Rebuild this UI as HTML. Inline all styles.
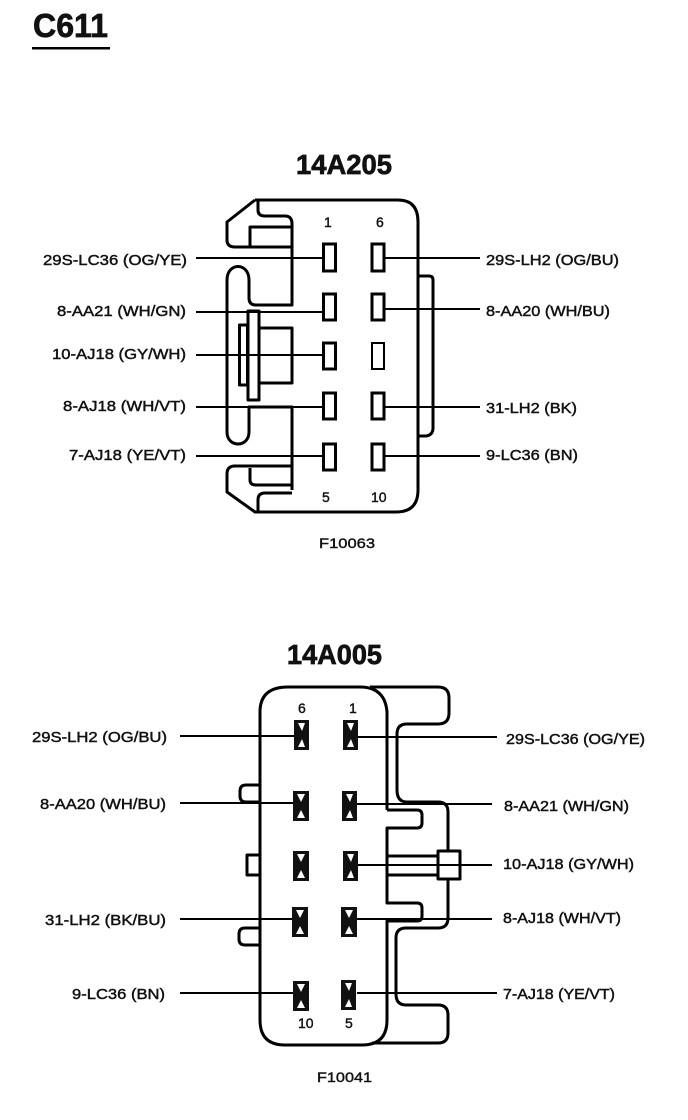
<!DOCTYPE html>
<html><head><meta charset="utf-8"><title>C611</title>
<style>
html,body{margin:0;padding:0;background:#fff}
svg{display:block}
text{font-family:"Liberation Sans",sans-serif;fill:#111;font-size:14.5px;stroke:#111;stroke-width:.45}
.h{font-weight:bold;font-size:27.5px;stroke-width:.7}
.n{font-size:14px;stroke-width:.4}
.o{fill:none;stroke:#000;stroke-width:3;stroke-linejoin:round}
.w{fill:none;stroke:#000;stroke-width:2}
.p{fill:#fff;stroke:#000;stroke-width:3}
.b{fill:#111}
.t{fill:#fff}
</style></head><body>
<svg width="688" height="1120" viewBox="0 0 688 1120" xmlns="http://www.w3.org/2000/svg">
<rect width="688" height="1120" fill="#fff"/>
<text x="33" y="37" class="h" style="font-size:33px" textLength="75" lengthAdjust="spacingAndGlyphs">C611</text>
<rect x="32" y="47" width="78" height="2.500" fill="#000"/>
<text x="296" y="174" class="h" textLength="96" lengthAdjust="spacingAndGlyphs">14A205</text>
<text x="287" y="664" class="h" textLength="95" lengthAdjust="spacingAndGlyphs">14A005</text>
<text x="319" y="548" class="n" textLength="56" lengthAdjust="spacingAndGlyphs">F10063</text>
<text x="317" y="1082" class="n" textLength="55" lengthAdjust="spacingAndGlyphs">F10041</text>

<!-- Top connector -->
<path class="o" d="M255 200H398Q418 200 418 222V490Q418 512 396 512H255L227 492V474Q227 466 235 466H292"/>
<path class="o" d="M255 200L227 222V240Q227 247 235 247H292"/>
<path class="o" d="M258 201V210Q258 216 265 216H285Q292 216 292 224V305H256Q249 305 249 298V280C249 262 227 262 227 280V432C227 448 249 448 249 432V407H292V490"/>
<path class="o" d="M250 247V227H292"/>
<path class="o" d="M292 468V485H256Q250 485 250 480V468"/>
<path class="o" d="M292 493H265Q258 493 258 500V512"/>
<rect class="o" x="248" y="311" width="11" height="89"/>
<rect class="o" x="239.500" y="325" width="8" height="60"/>
<path class="o" d="M259 328H292V383H259"/>
<path class="o" d="M419 276H429Q433 276 433 280V428Q433 435 426 436H419"/>
<g class="w">
<path d="M196 258H323M196 312H323M196 355H323M196 407H323M196 456H323"/>
<path d="M385 258H480M385 309H480M385 407H480M385 456H480"/>
</g>
<g class="p">
<rect x="323.500" y="244" width="12" height="27"/><rect x="323.500" y="294" width="12" height="26"/><rect x="323.500" y="343" width="12" height="26"/><rect x="323.500" y="393" width="12" height="26"/><rect x="323.500" y="444" width="12" height="26"/>
<rect x="372" y="244" width="12" height="27"/><rect x="372" y="294" width="12" height="26"/><rect x="372" y="343" width="12" height="26" style="stroke-width:2"/><rect x="372" y="393" width="12" height="26"/><rect x="372" y="444" width="12" height="26"/>
</g>
<text x="324" y="227" class="n">1</text><text x="376" y="227" class="n">6</text>
<text x="322" y="502" class="n">5</text><text x="371" y="502" class="n">10</text>
<text x="43" y="265" textLength="144" lengthAdjust="spacingAndGlyphs">29S-LC36 (OG/YE)</text>
<text x="57" y="316" textLength="129" lengthAdjust="spacingAndGlyphs">8-AA21 (WH/GN)</text>
<text x="52" y="359" textLength="134" lengthAdjust="spacingAndGlyphs">10-AJ18 (GY/WH)</text>
<text x="63" y="411" textLength="123" lengthAdjust="spacingAndGlyphs">8-AJ18 (WH/VT)</text>
<text x="69" y="460" textLength="117" lengthAdjust="spacingAndGlyphs">7-AJ18 (YE/VT)</text>
<text x="486" y="265" textLength="133" lengthAdjust="spacingAndGlyphs">29S-LH2 (OG/BU)</text>
<text x="486" y="316" textLength="124" lengthAdjust="spacingAndGlyphs">8-AA20 (WH/BU)</text>
<text x="486" y="413" textLength="91" lengthAdjust="spacingAndGlyphs">31-LH2 (BK)</text>
<text x="486" y="460" textLength="92" lengthAdjust="spacingAndGlyphs">9-LC36 (BN)</text>

<!-- Bottom connector -->
<path class="o" d="M387 810V712Q385 687 360 687H288Q260 687 260 712V1020Q260 1045 285 1045H362Q387 1045 387 1020V921H417Q422 921 422 916V908Q422 903 417 903H387V828H417Q422 828 422 823V815Q422 810 417 810H387"/>
<path class="o" d="M370 687H438Q449 687 449 698V713Q449 724 438 724H407Q397 724 397 734V790Q397 802 407 802H438Q448 802 448 812V851M448 879V918Q448 928 438 928H406Q396 928 396 938V994Q396 1005 406 1005H438Q448 1005 448 1015V1033Q448 1043 438 1043H372"/>
<rect class="o" x="438" y="851" width="22" height="28"/>
<path class="o" d="M387 856H438M387 875H438"/>
<path class="o" d="M260 785H246Q240 785 240 791V796Q240 802 246 802H260"/>
<path class="o" d="M260 855H247V875H260"/>
<path class="o" d="M260 928H245Q239 928 239 934V939Q239 945 245 945H260"/>
<g class="w">
<path d="M180 736H294M180 803H294M180 919H294M180 993H294"/>
<path d="M357 737H497M357 804H492M357 865H492M357 919H492M357 993H497"/>
</g>
<g>
<g transform="translate(294,720)"><rect class="b" width="15" height="30"/><path class="t" d="M4 3H11L8 11ZM4 27H11L8 19Z"/></g>
<g transform="translate(343,720)"><rect class="b" width="15" height="30"/><path class="t" d="M4 3H11L8 11ZM4 27H11L8 19Z"/></g>
<g transform="translate(293,791)"><rect class="b" width="16" height="30"/><path class="t" d="M4 3H12L8 11ZM4 27H12L8 19Z"/></g>
<g transform="translate(342,791)"><rect class="b" width="15" height="30"/><path class="t" d="M4 3H11L8 11ZM4 27H11L8 19Z"/></g>
<g transform="translate(293,851)"><rect class="b" width="16" height="30"/><path class="t" d="M4 3H12L8 11ZM4 27H12L8 19Z"/></g>
<g transform="translate(343,851)"><rect class="b" width="15" height="30"/><path class="t" d="M4 3H11L8 11ZM4 27H11L8 19Z"/></g>
<g transform="translate(292,907)"><rect class="b" width="16" height="30"/><path class="t" d="M4 3H12L8 11ZM4 27H12L8 19Z"/></g>
<g transform="translate(341,907)"><rect class="b" width="16" height="30"/><path class="t" d="M4 3H12L8 11ZM4 27H12L8 19Z"/></g>
<g transform="translate(293,981)"><rect class="b" width="16" height="30"/><path class="t" d="M4 3H12L8 11ZM4 27H12L8 19Z"/></g>
<g transform="translate(341,980)"><rect class="b" width="15" height="30"/><path class="t" d="M4 3H11L8 11ZM4 27H11L8 19Z"/></g>
</g>
<text x="298" y="713" class="n">6</text><text x="349" y="713" class="n">1</text>
<text x="298" y="1028" class="n">10</text><text x="345" y="1028" class="n">5</text>
<text x="32" y="742" textLength="135" lengthAdjust="spacingAndGlyphs">29S-LH2 (OG/BU)</text>
<text x="40" y="809" textLength="126" lengthAdjust="spacingAndGlyphs">8-AA20 (WH/BU)</text>
<text x="45" y="925" textLength="121" lengthAdjust="spacingAndGlyphs">31-LH2 (BK/BU)</text>
<text x="72" y="999" textLength="93" lengthAdjust="spacingAndGlyphs">9-LC36 (BN)</text>
<text x="506" y="744" textLength="139" lengthAdjust="spacingAndGlyphs">29S-LC36 (OG/YE)</text>
<text x="504" y="811" textLength="125" lengthAdjust="spacingAndGlyphs">8-AA21 (WH/GN)</text>
<text x="503" y="869" textLength="131" lengthAdjust="spacingAndGlyphs">10-AJ18 (GY/WH)</text>
<text x="503" y="923" textLength="118" lengthAdjust="spacingAndGlyphs">8-AJ18 (WH/VT)</text>
<text x="503" y="999" textLength="112" lengthAdjust="spacingAndGlyphs">7-AJ18 (YE/VT)</text>
</svg>
</body></html>
